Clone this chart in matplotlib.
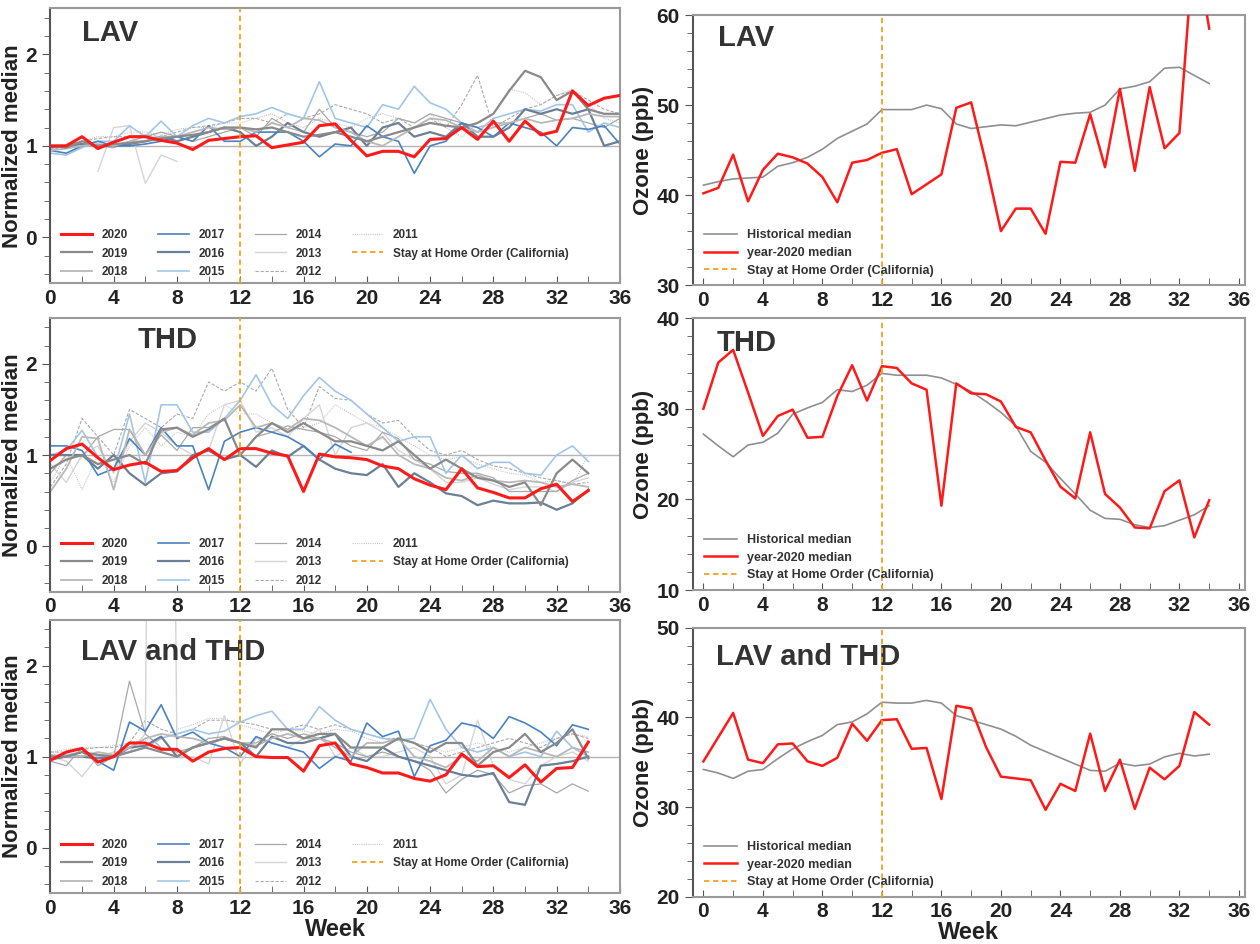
import numpy as np
import matplotlib.pyplot as plt
from matplotlib.ticker import MultipleLocator

plt.rcParams['font.family'] = ['Liberation Sans', 'DejaVu Sans']
plt.rcParams['font.weight'] = 'bold'

nan = np.nan

# ---------------- normalized medians, LAV (weeks 0..36) ----------------
lav_years = {
    "2020": [1.0, 1.0, 1.10, 0.97, 1.04, 1.10, 1.10, 1.06, 1.03, 0.96, 1.06, 1.08, 1.10, 1.11, 0.98, 1.01, 1.04, 1.22, 1.24,
             1.06, 0.89, 0.94, 0.94, 0.88, 1.07, 1.08, 1.20, 1.07, 1.27, 1.05, 1.27, 1.12, 1.16, 1.60, 1.44, 1.52, 1.55],
    "2019": [1.0, 0.98, 1.05, 1.0, 1.02, 1.03, 1.05, 1.08, 1.1, 1.12, 1.15, 1.2, 1.2, 1.18, 1.2, 1.15, 1.1, 1.12, 1.15,
             1.1, 1.05, 1.1, 1.15, 1.2, 1.25, 1.22, 1.2, 1.25, 1.35, 1.6, 1.82, 1.75, 1.5, 1.6, 1.4, 1.35, 1.35],
    "2018": [0.95, 0.97, 1.0, 1.02, 1.0, 1.05, 1.05, 1.1, 1.1, 1.15, 1.2, 1.18, 1.2, 1.15, 1.25, 1.2, 1.3, 1.28, 1.2,
             1.15, 1.05, 1.0, 1.1, 1.2, 1.3, 1.28, 1.2, 1.15, 1.2, 1.25, 1.3, 1.25, 1.28, 1.3, 1.35, 1.32, 1.32],
    "2017": [0.95, 0.92, 1.0, 1.05, 1.0, 1.0, 1.02, 1.05, 1.1, 1.05, 1.22, 1.05, 1.05, 1.15, 1.15, 1.15, 1.05, 0.88, 1.02,
             1.0, 1.22, 1.1, 1.05, 0.70, 1.0, 1.05, 1.25, 1.2, 1.1, 1.25, 1.2, 1.15, 1.0, 1.2, 1.18, 1.22, 1.02],
    "2016": [0.98, 1.0, 1.02, 1.0, 1.0, 1.02, 1.05, 1.1, 1.05, 1.1, 1.15, 1.2, 1.15, 1.0, 1.1, 1.25, 1.15, 1.1, 1.15,
             1.2, 1.0, 1.2, 1.25, 1.1, 1.15, 1.1, 1.25, 1.1, 1.1, 1.2, 1.4, 1.35, 1.4, 1.35, 1.4, 1.0, 1.05],
    "2015": [0.92, 0.9, 0.98, 1.05, 1.05, 1.22, 1.1, 1.27, 1.1, 1.22, 1.3, 1.25, 1.32, 1.35, 1.42, 1.35, 1.3, 1.70, 1.3,
             1.25, 1.2, 1.45, 1.4, 1.65, 1.47, 1.4, 1.25, 1.15, 1.3, 1.35, 1.4, 1.38, 1.45, 1.45, 1.15, 1.25, 1.2],
    "2014": [1.0, 1.0, 1.05, 1.0, 0.98, 1.05, 1.1, 1.15, 1.1, 1.05, 1.1, 1.15, 1.2, 1.1, 1.3, 1.2, 1.15, 1.4, 1.2,
             1.15, 1.1, 1.15, 1.3, 1.25, 1.35, 1.3, 1.25, 1.2, 1.25, 1.25, 1.3, 1.35, 1.28, 1.3, 1.25, 1.2, 1.3],
    "2013": [nan, nan, nan, 0.72, 1.2, 1.22, 0.59, 0.90, 0.83, nan, nan, nan, nan, nan, nan, nan, nan, nan, nan,
             nan, nan, nan, nan, nan, nan, nan, nan, nan, nan, nan, nan, nan, nan, nan, nan, nan, nan],
    "2012": [0.95, 1.0, 1.05, 1.08, 1.1, 1.1, 1.12, 1.1, 1.15, 1.2, 1.22, 1.25, 1.3, 1.3, 1.25, 1.35, 1.3, 1.35, 1.45,
             1.4, 1.35, 1.25, 1.3, 1.2, 1.3, 1.2, 1.45, 1.77, 1.2, 1.3, 1.4, 1.45, 1.55, 1.6, 1.5, 1.4, 1.35],
    "2011": [1.0, 1.02, 1.05, 1.1, 1.1, 1.15, 1.15, 1.12, 1.18, 1.2, 1.2, 1.25, 1.25, 1.3, 1.35, 1.25, 1.2, 1.3, 1.25,
             1.2, 1.3, 1.35, 1.3, 1.25, 1.35, 1.2, 1.1, 1.25, 1.35, 1.62, 1.58, 1.45, 1.55, 1.62, 1.45, 1.3, 1.25],
}

# ---------------- normalized medians, THD (weeks 0..34) ----------------
thd_years = {
    "2020": [0.94, 1.07, 1.12, 0.97, 0.84, 0.89, 0.92, 0.82, 0.83, 0.97, 1.07, 0.95, 1.07, 1.07, 1.02, 0.99, 0.60, 1.01,
             0.98, 0.97, 0.95, 0.88, 0.85, 0.74, 0.67, 0.62, 0.85, 0.64, 0.59, 0.53, 0.53, 0.63, 0.68, 0.49, 0.61],
    "2019": [0.85, 0.95, 1.0, 0.9, 0.95, 1.0, 0.9, 1.28, 1.3, 1.2, 1.28, 1.4, 1.0, 1.2, 1.35, 1.25, 1.35, 1.25,
             1.15, 1.15, 1.1, 1.05, 1.15, 1.0, 0.85, 0.95, 0.85, 0.75, 0.72, 0.65, 0.7, 0.45, 0.8, 0.95, 0.8],
    "2018": [0.6, 0.85, 1.2, 1.18, 0.62, 1.28, 1.0, 1.25, 1.3, 1.22, 1.35, 1.38, 1.55, 1.3, 1.35, 1.28, 1.4, 1.38,
             1.3, 1.2, 1.1, 1.2, 1.0, 0.9, 0.85, 0.75, 0.72, 0.78, 0.72, 0.7, 0.72, 0.7, 0.65, 0.68, 0.65],
    "2017": [1.1, 1.1, 1.05, 0.78, 0.85, 1.18, 1.0, 1.3, 1.1, 1.1, 0.62, 1.15, 1.25, 1.3, 1.25, 1.2, 1.1, 0.95,
             1.12, 1.03, nan, nan, nan, nan, nan, nan, nan, nan, nan, nan, nan, nan, nan, nan, nan],
    "2016": [1.0, 1.0, 1.0, 0.85, 1.0, 0.8, 0.67, 0.8, 0.82, 1.0, 1.05, 0.95, 1.0, 0.87, 1.05, 0.98, 1.1, 0.95,
             0.85, 0.8, 0.78, 0.9, 0.65, 0.8, 0.7, 0.58, 0.55, 0.45, 0.5, 0.47, 0.47, 0.48, 0.4, 0.47, 0.62],
    "2015": [1.0, 1.05, 1.27, 0.98, 0.82, 1.45, 0.7, 1.55, 1.55, 1.25, 1.25, 1.4, 1.6, 1.88, 1.55, 1.4, 1.65, 1.85,
             1.7, 1.6, 1.45, 1.3, 1.15, 1.2, 1.2, 0.8, 1.0, 0.85, 0.92, 0.92, 0.8, 0.78, 1.0, 1.1, 0.93],
    "2014": [0.8, 1.0, 0.98, 1.2, 1.28, 1.28, 1.0, 1.22, 1.05, 1.3, 1.3, 1.4, 1.0, 1.2, 1.25, 1.32, 1.28, 1.25,
             1.2, 1.1, 1.05, 1.25, 1.18, 0.95, 0.9, 0.82, 0.8, 0.8, 0.75, 0.6, 0.6, 0.6, 0.6, 0.72, 0.8],
    "2013": [0.9, 0.7, 1.0, 1.1, 0.8, 1.15, 1.35, 1.25, 1.1, 1.0, 1.05, 1.55, 1.6, 1.25, 1.3, 1.2, 1.4, 1.55,
             1.0, 1.3, 1.35, 1.25, 1.05, 0.95, 0.85, 0.7, 0.7, 0.75, 0.68, 0.62, 0.65, 0.65, 0.6, 0.7, 0.75],
    "2012": [0.65, 0.9, 1.4, 1.2, 1.0, 1.5, 1.4, 1.3, 1.45, 1.4, 1.8, 1.7, 1.8, 1.7, 1.95, 1.5, 1.3, 1.75,
             1.62, 1.6, 1.45, 1.35, 1.38, 1.2, 1.05, 1.0, 1.05, 0.95, 0.88, 0.85, 0.8, 0.75, 0.72, 0.68, 0.7],
    "2011": [0.7, 1.0, 0.62, 1.0, 0.7, 1.1, 1.3, 1.1, 1.25, 1.2, 1.45, 1.55, 1.45, 1.45, 1.35, 1.25, 1.3, 1.35,
             1.55, 1.45, 1.35, 1.3, 1.2, 1.1, 1.0, 0.95, 0.98, 0.9, 0.85, 0.8, 0.78, 0.7, 0.72, 0.68, 1.0],
}

# ---------------- normalized medians, LAV and THD (weeks 0..34) ----------------
both_years = {
    "2020": [0.96, 1.05, 1.09, 0.94, 1.0, 1.15, 1.15, 1.08, 1.08, 0.95, 1.05, 1.09, 1.10, 1.0, 0.99, 0.99, 0.84, 1.12,
             1.15, 0.92, 0.88, 0.82, 0.82, 0.76, 0.73, 0.80, 1.03, 0.89, 0.90, 0.77, 0.91, 0.72, 0.87, 0.88, 1.16],
    "2019": [1.0, 1.0, 1.05, 1.02, 1.0, 1.05, 1.1, 1.05, 1.0, 1.1, 1.15, 1.2, 1.15, 1.1, 1.3, 1.3, 1.2, 1.25,
             1.25, 1.1, 1.1, 1.1, 1.2, 1.15, 1.05, 1.15, 1.15, 0.9, 1.05, 1.1, 1.25, 1.05, 1.15, 1.3, 0.98],
    "2018": [1.02, 1.0, 1.0, 1.05, 1.02, 1.1, 1.2, 1.25, 1.22, 1.2, 1.15, 1.2, 1.15, 1.12, 1.2, 1.25, 1.2, 1.2,
             1.1, 1.0, 1.15, 1.15, 1.2, 1.0, 0.95, 0.88, 1.0, 0.95, 1.1, 1.0, 1.1, 1.05, 1.0, 1.1, 1.05],
    "2017": [0.97, 1.0, 1.05, 0.95, 0.85, 1.38, 1.28, 1.57, 1.2, 1.27, 1.15, 1.1, 1.0, 1.22, 1.15, 1.1, 1.05, 0.87,
             1.0, 0.95, 1.37, 1.22, 1.28, 0.78, 1.12, 1.18, 1.37, 1.33, 1.2, 1.44, 1.37, 1.27, 1.12, 1.35, 1.3],
    "2016": [0.97, 1.0, 1.0, 0.98, 1.0, 1.1, 1.12, 1.22, 1.0, 1.1, 1.15, 1.2, 1.15, 1.0, 1.22, 1.15, 1.15, 1.2,
             1.25, 1.0, 0.95, 1.1, 1.0, 0.95, 0.9, 0.85, 0.8, 0.78, 0.82, 0.5, 0.47, 0.9, 0.92, 0.95, 1.0],
    "2015": [1.0, 1.02, 1.05, 1.0, 1.0, 1.05, 1.1, 1.2, 1.25, 1.3, 1.25, 1.28, 1.38, 1.45, 1.5, 1.3, 1.3, 1.55,
             1.4, 1.3, 1.25, 1.2, 1.18, 1.2, 1.63, 1.3, 1.1, 1.05, 1.1, 1.0, 1.05, 1.0, 1.28, 1.1, 1.0],
    "2014": [0.95, 0.9, 1.1, 0.9, 1.0, 1.83, 1.25, 1.1, 1.05, 1.1, 1.2, 1.22, 1.15, 1.15, 1.25, 1.2, 1.25, 1.2,
             1.15, 1.05, 1.0, 1.05, 1.0, 0.95, 0.85, 0.6, 0.75, 0.85, 0.8, 0.6, 0.68, 0.7, 0.6, 0.7, 0.62],
    "2013": [1.0, 0.95, 0.78, 1.0, 1.05, 1.05, 1.25, 20.0, 1.0, 1.0, 0.92, 1.45, 0.92, 1.2, 1.15, 1.1, 1.2, 1.3,
             1.0, 1.1, 1.0, 1.0, 1.05, 1.1, 1.0, 0.7, 0.8, 1.4, 0.9, 0.75, 0.7, 0.9, 1.0, 1.05, 0.95],
    "2012": [1.05, 1.05, 1.08, 1.1, 1.1, 1.15, 1.4, 1.3, 1.25, 1.3, 1.4, 1.4, 1.38, 1.35, 1.3, 1.3, 1.35, 1.3,
             1.35, 1.3, 1.25, 1.2, 1.2, 1.15, 1.1, 1.0, 1.05, 1.1, 1.15, 1.2, 1.15, 1.1, 1.2, 1.25, 1.2],
    "2011": [1.05, 1.08, 1.1, 1.1, 1.12, 1.15, 1.18, 1.2, 1.3, 1.35, 1.42, 1.42, 1.35, 1.3, 1.25, 1.3, 1.28, 1.25,
             1.3, 1.28, 1.2, 1.15, 1.2, 1.15, 1.1, 1.05, 1.1, 1.15, 1.1, 1.05, 1.1, 1.15, 1.2, 1.25, 1.22],
}

# ---------------- ozone (ppb), weeks 0..34 ----------------
lav_hist = [41.1, 41.5, 41.8, 41.9, 42.0, 43.2, 43.6, 44.2, 45.1, 46.3, 47.1, 47.9, 49.5, 49.5, 49.5, 50.0, 49.6, 47.9,
            47.4, 47.6, 47.8, 47.7, 48.1, 48.5, 48.9, 49.1, 49.2, 50.0, 51.8, 52.1, 52.6, 54.1, 54.2, 53.3, 52.4]
lav_2020 = [40.2, 40.8, 44.5, 39.3, 42.8, 44.6, 44.2, 43.5, 42.0, 39.2, 43.6, 43.9, 44.7, 45.1, 40.1, 41.2, 42.3, 49.7,
            50.3, 43.5, 36.0, 38.5, 38.5, 35.7, 43.7, 43.6, 49.0, 43.1, 51.8, 42.7, 52.0, 45.2, 46.9, 68.6, 58.5]
thd_hist = [27.2, 25.9, 24.7, 26.0, 26.3, 27.3, 29.4, 30.1, 30.7, 32.1, 31.9, 32.6, 33.9, 33.7, 33.7, 33.7, 33.4, 32.7,
            31.9, 30.8, 29.6, 28.1, 25.3, 24.1, 22.3, 20.6, 18.8, 17.9, 17.8, 17.2, 16.9, 17.1, 17.7, 18.3, 19.3]
thd_2020 = [30.0, 35.1, 36.5, 31.8, 27.0, 29.2, 29.9, 26.8, 26.9, 31.4, 34.8, 30.9, 34.7, 34.5, 32.8, 32.1, 19.3, 32.8,
            31.7, 31.6, 30.8, 28.0, 27.4, 24.3, 21.4, 20.1, 27.4, 20.6, 19.1, 16.9, 16.8, 20.9, 22.1, 15.8, 19.9]
both_hist = [34.2, 33.8, 33.2, 34.0, 34.2, 35.4, 36.5, 37.3, 38.0, 39.2, 39.5, 40.4, 41.7, 41.6, 41.6, 41.9, 41.6, 40.2,
             39.7, 39.2, 38.7, 37.9, 36.9, 36.2, 35.5, 34.8, 34.1, 34.0, 34.9, 34.6, 34.8, 35.6, 36.0, 35.7, 35.9]
both_2020 = [35.1, 37.8, 40.5, 35.3, 34.9, 37.0, 37.1, 35.1, 34.6, 35.5, 39.3, 37.4, 39.7, 39.8, 36.5, 36.6, 30.9, 41.3,
             41.0, 36.7, 33.4, 33.2, 33.0, 29.7, 32.6, 31.8, 38.2, 31.8, 35.3, 29.8, 34.4, 33.1, 34.6, 40.6, 39.2]

stay_home_week = 12

# line style of each year: colour, width, dash
year_style = {
    "2020": dict(color="#ff1a1a", lw=2.2, ls="-"),
    "2019": dict(color="#8a8a8a", lw=1.6, ls="-"),
    "2018": dict(color="#b8b8b8", lw=1.3, ls="-"),
    "2017": dict(color="#4a83bf", lw=1.2, ls="-"),
    "2016": dict(color="#6b7f95", lw=1.6, ls="-"),
    "2015": dict(color="#a3c6e8", lw=1.2, ls="-"),
    "2014": dict(color="#a8a8a8", lw=0.9, ls="-"),
    "2013": dict(color="#d5d5d5", lw=1.0, ls="-"),
    "2012": dict(color="#aaaaaa", lw=0.8, ls=(0, (3, 1.5))),
    "2011": dict(color="#c8c8c8", lw=0.8, ls=(0, (1, 1))),
}

fig = plt.figure(figsize=(12.6, 9.44), dpi=100)

left_pos = [[0.040, 0.700, 0.452, 0.291],
            [0.040, 0.373, 0.452, 0.290],
            [0.040, 0.054, 0.452, 0.289]]
right_pos = [[0.550, 0.698, 0.438, 0.286],
             [0.550, 0.375, 0.438, 0.288],
             [0.550, 0.050, 0.438, 0.285]]


def style_axes(ax):
    for side in ["top", "right", "bottom"]:
        ax.spines[side].set_color("#9a9a9a")
        ax.spines[side].set_linewidth(1.5)
    ax.spines["left"].set_color("#555555")
    ax.spines["left"].set_linewidth(1.5)
    ax.xaxis.set_major_locator(MultipleLocator(4))
    ax.xaxis.set_minor_locator(MultipleLocator(2))
    ax.tick_params(axis="x", which="both", direction="in", length=5, color="#555555",
                   labelsize=15, labelcolor="#222222", pad=4)
    ax.tick_params(axis="y", which="major", direction="out", length=6, color="#555555",
                   labelsize=15, labelcolor="#222222")
    ax.tick_params(axis="y", which="minor", direction="out", length=4, color="#555555")


# ========================= left column : normalized median =========================
panels = [("LAV", lav_years, (0.056, 0.91)),
          ("THD", thd_years, (0.153, 0.92)),
          ("LAV and THD", both_years, (0.053, 0.885))]

for i, (name, data, tpos) in enumerate(panels):
    ax = fig.add_axes(left_pos[i])
    ax.axhline(1, color="#b5b5b5", lw=1.0, zorder=1)
    handles = {}
    for year in ["2011", "2012", "2013", "2014", "2015", "2016", "2017", "2018", "2019", "2020"]:
        vals = data[year]
        weeks = np.arange(len(vals))
        st = year_style[year]
        z = 5 if year == "2020" else 2
        (ln,) = ax.plot(weeks, vals, color=st["color"], lw=st["lw"], ls=st["ls"], label=year, zorder=z)
        handles[year] = ln
    vl = ax.axvline(stay_home_week, color="#f5a21b", lw=1.3, ls=(0, (3, 2)), zorder=6,
                    label="Stay at Home Order (California)")
    order = ["2020", "2019", "2018", "2017", "2016", "2015", "2014", "2013", "2012", "2011"]
    ax.legend([handles[y] for y in order] + [vl], order + ["Stay at Home Order (California)"],
              ncol=4, loc="lower left", bbox_to_anchor=(0.0, -0.02), frameon=False,
              prop={"size": 8.5, "weight": "bold"}, labelcolor="#333333",
              handlelength=2.6, columnspacing=2.6, labelspacing=0.55)
    ax.set_xlim(0, 36)
    ax.set_ylim(-0.5, 2.5)
    ax.set_yticks([0, 1, 2])
    ax.yaxis.set_minor_locator(MultipleLocator(0.2))
    style_axes(ax)
    ax.set_ylabel("Normalized median", fontsize=16, fontweight="bold", color="#222222", labelpad=2)
    ax.text(tpos[0], tpos[1], name, transform=ax.transAxes, fontsize=21, fontweight="bold",
            color="#333333", va="center", ha="left")
    if i == 2:
        ax.set_xlabel("Week", fontsize=17, fontweight="bold", color="#222222", labelpad=0)

# ========================= right column : ozone =========================
oz_panels = [("LAV", lav_hist, lav_2020, (30, 60), (0.045, 0.915)),
             ("THD", thd_hist, thd_2020, (10, 40), (0.042, 0.908)),
             ("LAV and THD", both_hist, both_2020, (20, 50), (0.042, 0.89))]

for i, (name, hist, cur, ylim, tpos) in enumerate(oz_panels):
    ax = fig.add_axes(right_pos[i])
    weeks = np.arange(len(hist))
    ax.plot(weeks, hist, color="#8f8f8f", lw=1.2, label="Historical median", zorder=3)
    ax.plot(weeks, cur, color="#ff1a1a", lw=1.8, label="year-2020 median", zorder=4)
    ax.axvline(stay_home_week, color="#f5a21b", lw=1.3, ls=(0, (3, 2)), zorder=5,
               label="Stay at Home Order (California)")
    ax.legend(loc="lower left", bbox_to_anchor=(0.0, -0.01), frameon=False,
              prop={"size": 9, "weight": "bold"}, labelcolor="#333333",
              handlelength=2.6, labelspacing=0.45)
    ax.set_xlim(-0.7, 36.4)
    ax.set_ylim(*ylim)
    ax.yaxis.set_major_locator(MultipleLocator(10))
    ax.yaxis.set_minor_locator(MultipleLocator(2))
    style_axes(ax)
    ax.set_ylabel("Ozone (ppb)", fontsize=16, fontweight="bold", color="#222222", labelpad=2)
    ax.text(tpos[0], tpos[1], name, transform=ax.transAxes, fontsize=21, fontweight="bold",
            color="#333333", va="center", ha="left")
    if i == 2:
        ax.set_xlabel("Week", fontsize=17, fontweight="bold", color="#222222", labelpad=0)

plt.savefig("out.png", dpi=100)
